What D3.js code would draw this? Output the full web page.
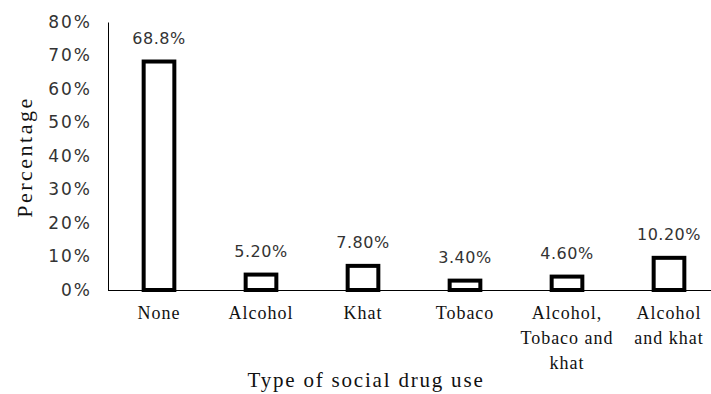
<!DOCTYPE html>
<html>
<head>
<meta charset="utf-8">
<script src="https://cdn.jsdelivr.net/npm/d3@7"></script>
<style>
  body { margin: 0; background: #fff; }
</style>
</head>
<body>
<svg id="chart" width="711" height="394"></svg>
<script>
const categories = ['None', 'Alcohol', 'Khat', 'Tobaco', 'Alcohol, Tobaco and khat', 'Alcohol and khat'];
const categoryLines = [['None'], ['Alcohol'], ['Khat'], ['Tobaco'], ['Alcohol,', 'Tobaco and', 'khat'], ['Alcohol', 'and khat']];
const values = [68.8, 5.2, 7.8, 3.4, 4.6, 10.2];
const valueLabels = ['68.8%', '5.20%', '7.80%', '3.40%', '4.60%', '10.20%'];
const yTicks = [0, 10, 20, 30, 40, 50, 60, 70, 80];

const svg = d3.select('#chart');
const plotLeft = 108;
const plotBottom = 290;
const plotTop = 22;

const x = d3.scaleBand().domain(categories).range([plotLeft, 720]).paddingInner(0.66).paddingOuter(0.33);
const y = d3.scaleLinear().domain([0, 80]).range([plotBottom, plotTop]);

// y axis
const yAxis = svg.append('g')
  .attr('transform', `translate(${plotLeft},0)`)
  .call(d3.axisLeft(y).tickValues(yTicks).tickSize(0).tickPadding(16).tickFormat((d) => d + '%'));
yAxis.select('.domain').attr('stroke', '#000').attr('stroke-width', 1);
yAxis.selectAll('text')
  .attr('font-family', 'DejaVu Sans')
  .attr('font-size', 17)
  .attr('letter-spacing', 2)
  .attr('fill', '#333');

// bars
svg.append('g')
  .selectAll('rect')
  .data(values)
  .join('rect')
  .attr('x', (d, i) => x(categories[i]) + 2)
  .attr('y', (d) => y(d) + 2)
  .attr('width', x.bandwidth() - 4)
  .attr('height', (d) => plotBottom - y(d) - 2)
  .attr('fill', '#fff')
  .attr('stroke', '#000')
  .attr('stroke-width', 4);

// x axis line
svg.append('line')
  .attr('x1', plotLeft).attr('x2', 711)
  .attr('y1', plotBottom + 0.5).attr('y2', plotBottom + 0.5)
  .attr('stroke', '#000')
  .attr('stroke-width', 1);

// value labels
svg.append('g')
  .selectAll('text')
  .data(values)
  .join('text')
  .attr('x', (d, i) => x(categories[i]) + x.bandwidth() / 2)
  .attr('y', (d) => y(d) - 16)
  .attr('text-anchor', 'middle')
  .attr('font-family', 'DejaVu Sans')
  .attr('font-size', 16)
  .attr('letter-spacing', 0.5)
  .attr('fill', '#333')
  .text((d, i) => valueLabels[i]);

// category labels
const catG = svg.append('g');
categories.forEach((c, i) => {
  const cx = x(c) + x.bandwidth() / 2;
  const t = catG.append('text')
    .attr('x', cx)
    .attr('y', 319)
    .attr('text-anchor', 'middle')
    .attr('font-family', 'Liberation Serif')
    .attr('font-size', 18)
    .attr('letter-spacing', 1)
    .attr('fill', '#111');
  categoryLines[i].forEach((line, j) => {
    t.append('tspan')
      .attr('x', cx)
      .attr('dy', j === 0 ? 0 : 25)
      .text(line);
  });
});

// axis titles
svg.append('text')
  .attr('transform', 'translate(32,157) rotate(-90)')
  .attr('text-anchor', 'middle')
  .attr('font-family', 'Liberation Serif')
  .attr('font-size', 22)
  .attr('letter-spacing', 2.5)
  .attr('fill', '#111')
  .text('Percentage');

svg.append('text')
  .attr('x', 366)
  .attr('y', 387)
  .attr('text-anchor', 'middle')
  .attr('font-family', 'Liberation Serif')
  .attr('font-size', 21)
  .attr('letter-spacing', 1.8)
  .attr('fill', '#111')
  .text('Type of social drug use');
</script>
</body>
</html>
